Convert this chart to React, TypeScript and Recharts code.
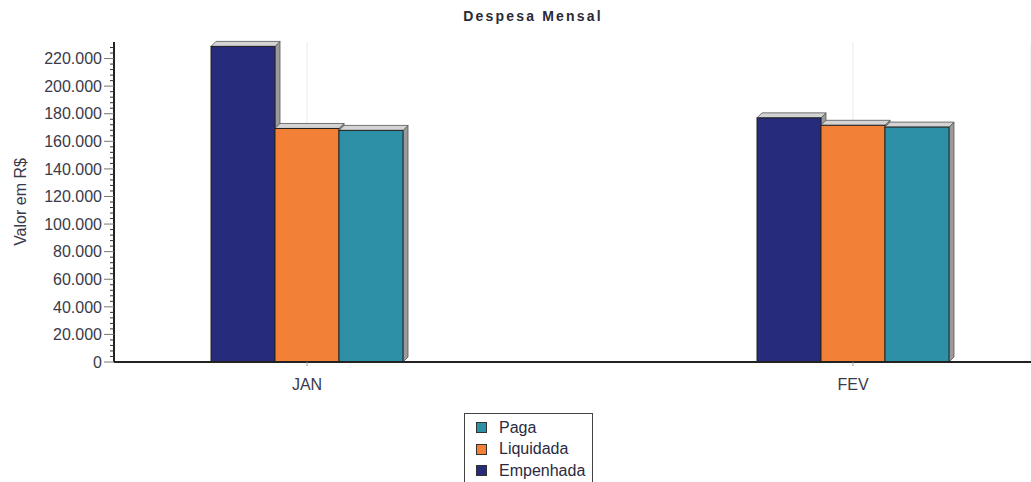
import { BarChart, Bar, XAxis, YAxis, CartesianGrid, Legend } from 'recharts'

// Despesa mensal (R$)
const months = ['JAN', 'FEV']
const empenhada = [228800, 177000]
const liquidada = [169300, 171600]
const paga = [167900, 170300]

// major ticks every 20.000, minor marks every 4.000
const yTicks = [0, 20000, 40000, 60000, 80000, 100000, 120000, 140000, 160000, 180000, 200000, 220000]
const minorTicks = Array.from({ length: 58 }, (_, i) => i * 4000)

const COLORS = {
  empenhada: '#262b7c',
  liquidada: '#f28036',
  paga: '#2e90a6',
}

const FONT = 'Liberation Sans, Arial, sans-serif'

const data = months.map((m, i) => ({
  month: m,
  empenhada: empenhada[i],
  liquidada: liquidada[i],
  paga: paga[i],
}))

const fmt = (v: number) => v.toLocaleString('pt-BR')

// bar with a small 3D lip on top and a shaded side
const Bar3D = (props: any) => {
  const { x, y, width, height, fill } = props
  const d = 5
  return (
    <g>
      <polygon
        points={`${x + width},${y} ${x + width + d},${y - d} ${x + width + d},${y + height - d} ${x + width},${y + height}`}
        fill="#9a9a9a"
        stroke="#555"
        strokeWidth={0.8}
      />
      <polygon
        points={`${x},${y} ${x + d},${y - d} ${x + width + d},${y - d} ${x + width},${y}`}
        fill="#d4d4d4"
        stroke="#555"
        strokeWidth={0.8}
      />
      <rect x={x} y={y} width={width} height={height} fill={fill} stroke="#222" strokeWidth={1} />
    </g>
  )
}

// y tick: long mark + label on majors, short mark only on minors
const YTick = (props: any) => {
  const { x, y, payload } = props
  const axisX = x + 12
  const major = payload.value % 20000 === 0
  if (!major) {
    return <line x1={axisX - 4} x2={axisX} y1={y} y2={y} stroke="#333" strokeWidth={1} />
  }
  return (
    <g>
      <line x1={axisX - 10} x2={axisX} y1={y} y2={y} stroke="#777" strokeWidth={1} />
      <text x={x} y={y} dy="0.355em" textAnchor="end" fontSize={16} fill="#3a3a4a" fontFamily={FONT}>
        {fmt(payload.value)}
      </text>
    </g>
  )
}

const LegendBox = ({ payload }: any) => {
  const items = [...(payload || [])].reverse()
  return (
    <div
      style={{
        border: '1px solid #444',
        padding: '3px 0 10px 11px',
        fontFamily: FONT,
        fontSize: 16,
        color: '#2a2a40',
        background: '#fff',
        width: 116,
      }}
    >
      {items.map((entry: any) => (
        <div key={entry.value} style={{ display: 'flex', alignItems: 'center', height: 21.5 }}>
          <span
            style={{
              display: 'inline-block',
              flexShrink: 0,
              width: 9,
              height: 9,
              background: entry.color,
              border: '1px solid #333',
              marginRight: 12,
            }}
          />
          <span style={{ whiteSpace: 'nowrap' }}>{entry.value}</span>
        </div>
      ))}
    </div>
  )
}

export default function App() {
  return (
    <div style={{ position: 'absolute', left: 0, top: 0, width: 1031, height: 482, background: '#fff', overflow: 'hidden' }}>
      <div
        style={{
          position: 'absolute',
          left: 0,
          width: 1066,
          top: 8,
          textAlign: 'center',
          fontFamily: FONT,
          fontWeight: 'bold',
          fontSize: 14,
          letterSpacing: 2.2,
          color: '#2a2a38',
        }}
      >
        Despesa Mensal
      </div>
      <BarChart
        width={1031}
        height={482}
        data={data}
        margin={{ top: 42, right: 0, bottom: 80, left: 0 }}
        barGap={0}
        barCategoryGap={177}
      >
        <CartesianGrid horizontal={false} stroke="#ebebeb" />
        <XAxis
          dataKey="month"
          padding={{ left: -80, right: -95 }}
          axisLine={{ stroke: '#222', strokeWidth: 2 }}
          tickLine={{ stroke: '#999' }}
          tickSize={4}
          tickMargin={13}
          height={40}
          tick={{ fontSize: 16, fill: '#3a3a4a', fontFamily: FONT }}
        />
        <YAxis
          width={114}
          domain={[0, 232000]}
          ticks={minorTicks}
          interval={0}
          axisLine={{ stroke: '#222', strokeWidth: 2 }}
          tickLine={false}
          tickSize={10}
          tickMargin={2}
          tick={<YTick />}
          label={{
            value: 'Valor em R$',
            angle: -90,
            position: 'insideLeft',
            offset: 20,
            style: { textAnchor: 'middle', fontSize: 16, fill: '#3a3a4a', fontFamily: FONT },
          }}
        />
        <Legend
          layout="vertical"
          verticalAlign="middle"
          align="center"
          wrapperStyle={{ left: 464, top: 413, width: 'auto' }}
          content={<LegendBox />}
        />
        <Bar dataKey="empenhada" name="Empenhada" fill={COLORS.empenhada} shape={<Bar3D />} isAnimationActive={false} />
        <Bar dataKey="liquidada" name="Liquidada" fill={COLORS.liquidada} shape={<Bar3D />} isAnimationActive={false} />
        <Bar dataKey="paga" name="Paga" fill={COLORS.paga} shape={<Bar3D />} isAnimationActive={false} />
      </BarChart>
    </div>
  )
}
